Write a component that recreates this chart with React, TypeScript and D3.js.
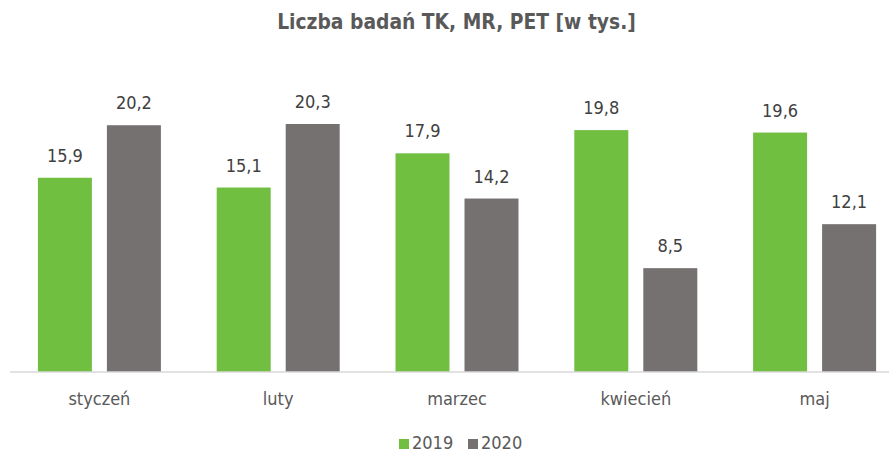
import React from "react";
import * as d3 from "d3";

const categories = ["styczeń", "luty", "marzec", "kwiecień", "maj"];
const series2019 = [15.9, 15.1, 17.9, 19.8, 19.6];
const series2020 = [20.2, 20.3, 14.2, 8.5, 12.1];
const seriesNames = ["2019", "2020"];
const colors = ["#70BF41", "#767171"];

const W = 889;
const H = 452;
const FONT = "'DejaVu Sans Condensed', 'DejaVu Sans', sans-serif";

export default function App() {
  const baseline = 372;
  const x = d3.scaleBand<string>().domain(categories).range([10, 904]).paddingInner(0).paddingOuter(0);
  const y = d3.scaleLinear().domain([0, 20.3]).range([baseline, 124]);
  const barW = 54;
  const gap = 15;
  const fmt = (v: number) => v.toFixed(1).replace(".", ",");
  const data = [series2019, series2020];

  return (
    <svg width={W} height={H} style={{ position: "absolute", left: 0, top: 0, background: "#fff" }}>
      <text x={456.5} y={29} textAnchor="middle" fontFamily={FONT} fontWeight="bold" fontSize={20.8} fill="#595959">
        Liczba badań TK, MR, PET [w tys.]
      </text>
      {categories.map((c, i) => {
        const cx = (x(c) as number) + x.bandwidth() / 2;
        const start = cx - (barW * 2 + gap) / 2;
        return (
          <g key={c}>
            {data.map((s, k) => {
              const bx = start + k * (barW + gap);
              const v = s[i];
              return (
                <g key={k}>
                  <rect x={bx} y={y(v)} width={barW} height={baseline - y(v)} fill={colors[k]} />
                  <text x={bx + barW / 2} y={y(v) - 16} textAnchor="middle" fontFamily={FONT} fontSize={18} fill="#404040">
                    {fmt(v)}
                  </text>
                </g>
              );
            })}
            <text x={cx} y={405} textAnchor="middle" fontFamily={FONT} fontSize={18} fill="#595959">
              {c}
            </text>
          </g>
        );
      })}
      <line x1={10} x2={889} y1={baseline} y2={baseline} stroke="#D9D9D9" strokeWidth={1.5} />
      {seriesNames.map((n, k) => (
        <g key={n} transform={`translate(${399 + k * 69},0)`}>
          <rect x={0} y={439} width={10} height={10} fill={colors[k]} />
          <text x={13} y={449} fontFamily={FONT} fontSize={18} fill="#595959">
            {n}
          </text>
        </g>
      ))}
    </svg>
  );
}
